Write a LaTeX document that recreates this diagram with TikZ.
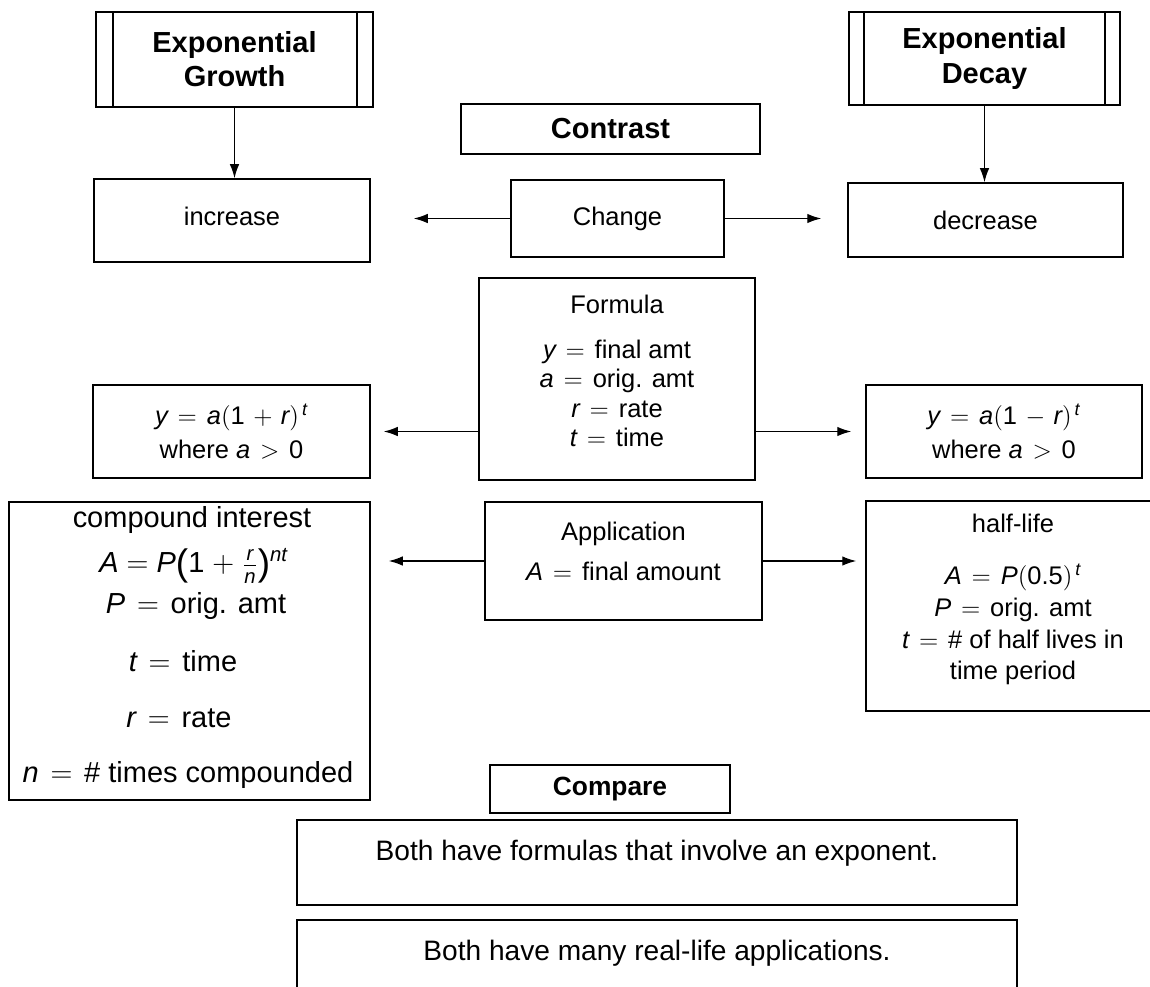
\documentclass[tikz,border=0pt]{standalone}
\usepackage{fontspec}
\setmainfont{Liberation Sans}
\usepackage{amsmath}
\usetikzlibrary{positioning,arrows.meta}
\newcommand\vv[1]{\textit{#1}}
\newcommand\bigpar[1]{{\fontsize{21}{21}\selectfont\raisebox{-1.5pt}{#1}}}
\thickmuskip=7mu plus 2mu
\medmuskip=6mu plus 2mu

\begin{document}
\begin{tikzpicture}[x=0.02cm,y=-0.02cm]
\tikzset{box/.style = {draw, line width=0.9pt, inner sep=0pt, align=center,
                       font=\fontsize{14.5}{19}\selectfont},
         hbox/.style = {box, font=\fontsize{16.5}{19.5}\selectfont\bfseries},
         txt/.style = {inner sep=0pt, align=center, font=\fontsize{14.5}{19}\selectfont},
         ctxt/.style = {inner sep=0pt, font=\fontsize{16.5}{20}\selectfont},
         arr/.style = {-{Latex[length=0.28cm,width=0.19cm]}, line width=0.7pt}}
\useasboundingbox (0,0) rectangle (1150,987);

\node[hbox, minimum width=5.54cm, minimum height=1.9cm] (grow) at (234.5,59.5) {Exponential\\Growth};
\node[hbox, minimum width=5.42cm, minimum height=1.86cm] (decay) at (984.5,58.5) {Exponential\\Decay};
\draw[line width=0.9pt] ([xshift=0.36cm]grow.north west) -- ([xshift=0.36cm]grow.south west)
                        ([xshift=-0.34cm]grow.north east) -- ([xshift=-0.34cm]grow.south east);
\draw[line width=0.9pt] ([xshift=0.32cm]decay.north west) -- ([xshift=0.32cm]decay.south west)
                        ([xshift=-0.32cm]decay.north east) -- ([xshift=-0.32cm]decay.south east);
\node[hbox, minimum width=5.98cm, minimum height=1cm] (contrast) at (610.5,129) {Contrast};

\node[box, minimum width=5.52cm, minimum height=1.66cm] (incr) at (232,220.5) {};
\node[txt] (incrtxt) at (232,216) {increase};
\node[box, minimum width=4.26cm, minimum height=1.54cm] (change) at (617.5,218.5) {Change};
\node[box, minimum width=5.5cm, minimum height=1.48cm] (decr) at (985.5,220) {decrease};

\node[box, minimum width=5.52cm, minimum height=4.04cm] (formula) at (617,379) {};
\node[txt, font=\fontsize{14.5}{16.8}\selectfont, below=0.34cm of formula.north] (formulatxt)
  {Formula\\[9pt]
  $\vv{y} = \text{final amt}$\\
  $\vv{a} = \text{orig. amt}$\\
  $\vv{r} = \text{rate}$\\
  $\vv{t} = \text{time}$};
\node[box, minimum width=5.54cm, minimum height=1.86cm] (growf) at (231.5,431.5)
  {$\vv{y} = \vv{a}(\text{1} + \vv{r})^{\,\vv{t}}$\\ where $\vv{a} > \text{0}$};
\node[box, minimum width=5.52cm, minimum height=1.86cm] (decayf) at (1004,431.5)
  {$\vv{y} = \vv{a}(\text{1} - \vv{r})^{\,\vv{t}}$\\ where $\vv{a} > \text{0}$};

\node[box, minimum width=7.22cm, minimum height=5.96cm] (compound) at (189.5,651) {};
\node[ctxt] (ci) at (192,520) {compound interest};
\node[ctxt] (ca) at (194,566) {\vv{A} $=$ \vv{P}\bigpar{(}1 $+$ $\frac{\vv{r}}{\vv{n}}$\bigpar{)}\textsuperscript{\vv{nt}}};
\node[ctxt] (cp) at (196,606) {$\vv{P} = \text{orig. amt}$};
\node[ctxt] (ct) at (183,661) {$\vv{t} = \text{time}$};
\node[ctxt] (cr) at (179,718) {$\vv{r} = \text{rate}$};
\node[ctxt] (cn) at (188,775) {$\vv{n} = \text{\# times compounded}$};

\node[box, minimum width=5.54cm, minimum height=2.36cm] (appl) at (623.5,561) {};
\node[txt, below=0.4cm of appl.north] (appltxt) {Application\\[4pt]
  $\vv{A} = \text{final amount}$};
\node[box, minimum width=5.88cm, minimum height=4.2cm] (halflife) at (1013,606) {};
\node[txt, font=\fontsize{14.5}{18}\selectfont, below=0.26cm of halflife.north] (halflifetxt)
  {half-life\\[12pt]
  $\vv{A} = \vv{P}(\text{0.5})^{\,\vv{t}}$\\
  $\vv{P} = \text{orig. amt}$\\
  $\vv{t} = \text{\# of half lives in}$\\
  time period};

\node[hbox, font=\fontsize{15}{18}\selectfont\bfseries, minimum width=4.8cm, minimum height=0.96cm]
  (compare) at (610,789) {Compare};
\node[box, minimum width=14.4cm, minimum height=1.7cm] (both1) at (657,862.5) {};
\node[txt, font=\fontsize{16}{19}\selectfont, below=0.42cm of both1.north] (both1txt)
  {Both have formulas that involve an exponent.};
\node[box, minimum width=14.4cm, minimum height=1.8cm] (both2) at (657,965) {};
\node[txt, font=\fontsize{16}{19}\selectfont, below=0.42cm of both2.north] (both2txt)
  {Both have many real-life applications.};

\draw[arr] (grow) -- (grow |- incr.north);
\draw[arr] (decay) -- (decay |- decr.north);
\draw[arr, shorten >=0.86cm] (change.west) -- (change.west -| incr.east);
\draw[arr, shorten >=0.52cm] (change.east) -- (change.east -| decr.west);
\draw[arr, shorten >=0.26cm] (growf.east -| formula.west) -- (growf.east);
\draw[arr, shorten >=0.28cm] (decayf.west -| formula.east) -- (decayf.west);
\draw[arr, shorten >=0.36cm] (appl.west) -- (appl.west -| compound.east);
\draw[arr, shorten >=0.18cm] (appl.east) -- (appl.east -| halflife.west);
\end{tikzpicture}
\end{document}
